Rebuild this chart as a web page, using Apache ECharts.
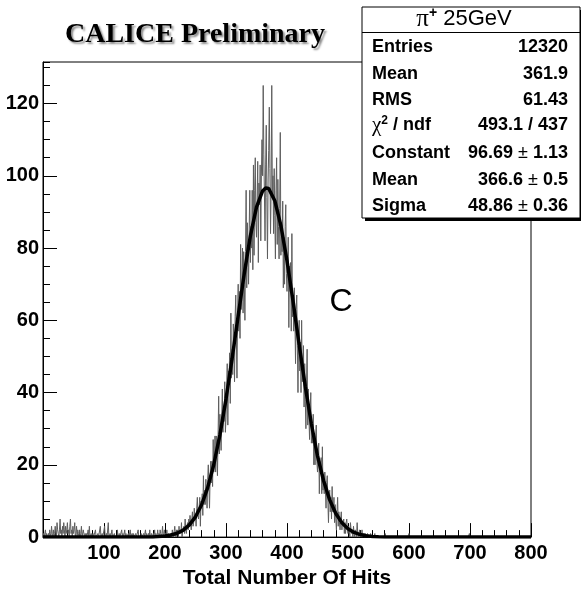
<!DOCTYPE html>
<html><head><meta charset="utf-8">
<script src="https://cdn.jsdelivr.net/npm/echarts@6/dist/echarts.min.js"></script>
<style>html,body{margin:0;padding:0;background:#fff}#c{width:581px;height:594px}</style>
</head><body><div id="c"></div>
<script>
// Histogram: 800 bins of width 1 over [0, 800)
const binStart = 0;
const binWidth = 1;
const counts = [
0,1,0,0,2,0,1,0,0,1,
0,2,1,0,3,1,0,2,0,1,
3,1,0,4,2,1,0,2,5,1,
2,0,3,1,4,2,0,3,1,2,
4,1,2,0,3,5,1,2,0,3,
1,2,4,0,1,3,0,2,1,0,
2,0,1,3,0,0,2,1,0,1,
0,1,0,0,2,0,3,0,0,1,
0,0,1,0,0,0,2,0,0,0,
1,0,0,0,3,0,0,1,0,0,
0,3,0,0,1,0,0,4,0,0,
1,0,0,2,0,0,0,1,0,0,
0,0,2,0,0,1,0,0,0,2,
0,1,0,0,2,0,1,0,0,0,
1,0,0,2,0,0,1,0,1,0,
0,0,1,0,0,0,2,0,0,0,
0,1,0,0,0,1,0,0,2,0,
1,0,0,1,0,2,0,0,1,0,
0,1,0,2,0,1,1,0,2,0,
1,0,2,1,0,1,3,0,1,2,
0,1,0,2,0,0,1,1,0,1,
1,0,2,1,0,0,3,1,0,2,
1,2,0,3,1,2,1,4,0,2,
2,3,1,5,2,1,3,4,2,5,
3,6,4,2,5,7,3,4,8,5,
6,3,8,11,6,5,8,11,3,10,
8,12,6,17,9,13,9,16,12,8,
16,20,14,8,17,21,15,21,14,27,
18,21,28,18,28,22,17,28,39,23,
34,28,24,33,41,29,35,32,43,29,
33,40,48,31,46,43,51,37,62,44,
52,45,59,52,43,61,67,55,44,62,
70,57,68,55,81,63,68,80,62,79,
70,60,79,96,69,87,77,70,85,96,
76,86,80,96,74,103,78,96,105,87,
83,93,104,76,98,92,103,82,100,110,
100,125,106,95,82,103,114,94,77,98,
107,119,102,84,96,125,94,100,84,102,
89,77,96,105,81,99,86,77,91,112,
78,86,79,93,69,83,70,86,92,73,
68,75,83,58,75,68,76,57,84,61,
67,57,69,60,48,63,67,53,40,55,
60,46,54,40,60,43,45,53,36,48,
38,30,42,52,31,41,33,27,35,40,
26,31,26,34,20,28,20,28,31,21,
18,22,26,12,21,18,22,12,25,13,
17,12,18,13,8,15,17,10,4,11,
13,7,11,5,14,7,8,11,4,9,
5,2,7,11,3,7,4,2,5,7,
2,4,3,5,1,4,1,4,5,2,
1,3,2,0,4,2,1,2,0,3,
1,0,2,1,0,4,1,0,1,2,
0,1,0,2,0,0,1,0,1,0,
0,0,1,0,0,0,0,1,0,0,
0,0,0,0,1,0,0,0,0,0,
0,0,0,0,0,0,0,0,0,0,
0,1,0,0,0,0,0,0,0,0,
0,0,0,0,0,0,0,0,0,0,
0,0,0,0,0,0,0,0,0,0,
0,0,0,0,0,0,0,0,0,0,
1,0,0,0,0,0,0,0,0,0,
0,0,0,0,0,0,0,0,0,0,
0,0,0,0,0,0,0,0,0,0,
0,0,0,0,0,0,0,0,0,0,
0,0,0,0,0,0,0,0,0,0,
0,0,0,0,0,0,0,0,0,0,
0,0,0,0,0,0,0,0,0,0,
0,0,0,0,0,0,0,0,0,0,
0,0,0,0,0,0,0,0,0,0,
0,0,0,0,0,0,0,0,0,1,
0,0,0,0,0,0,0,0,0,0,
0,0,0,0,0,0,0,0,0,0,
0,0,0,0,0,0,0,0,0,0,
0,0,0,0,0,0,0,0,0,0,
0,0,0,0,0,0,0,0,0,0,
0,0,0,0,0,0,0,0,0,0,
0,0,0,0,0,0,0,0,0,0,
0,0,0,0,0,0,0,0,0,0,
0,0,0,0,0,0,0,0,0,0,
0,0,0,0,0,0,0,0,0,0
];

// Gaussian fit curve, sampled
const fitX = [0,10,20,30,40,50,60,70,80,90,100,110,120,130,140,150,160,170,180,190,
  200,210,220,230,240,250,260,270,280,290,300,310,320,330,340,350,360,365,370,380,390,
  400,410,420,430,440,450,460,470,480,490,500,510,520,530,540,550,560,570,580,590,
  600,610,620,630,640,650,660,670,680,690,700,710,720,730,740,750,760,770,780,790,800];
const fitY = [0,0,0,0,0,0,0,0,0,0,0,0,0,0,0,0,0,0,0,0.14,
  0.29,0.57,1.07,1.94,3.37,5.61,8.95,13.7,20.1,28.3,38.2,49.4,61.3,73.0,83.4,91.3,95.8,96.64,96.5,93.1,86.2,
  76.5,65.2,53.2,41.7,31.3,22.5,15.6,10.3,6.55,3.98,2.33,1.30,0.70,0.36,0.18,0.08,0,0,0,0,
  0,0,0,0,0,0,0,0,0,0,0,0,0,0,0,0,0,0,0,0,0];

const xMin = 0, xMax = 800, xStep = 100;
const yMin = 0, yMax = 131.5, yStep = 20, yMinorStep = 5;

const titleText = 'CALICE Preliminary';
const statHeader = ['π', '+', ' 25GeV'];
const statLabels = ['Entries', 'Mean', 'RMS', 'CHI', 'Constant', 'Mean', 'Sigma'];
const statValues = ['12320', '361.9', '61.43', '493.1 / 437', ['96.69', '1.13'], ['366.6', '0.5'], ['48.86', '0.36']];
const xTitle = 'Total Number Of Hits';
const panelLetter = 'C';

const SANS = '"Liberation Sans", Arial, Helvetica, sans-serif';
const SERIF = '"Liberation Serif", "Times New Roman", serif';

const histData = counts.map((c, i) => [binStart + i * binWidth, c]);
histData.push([binStart + counts.length * binWidth, counts[counts.length - 1]]);
const fitData = fitX.map((x, i) => [x, fitY[i]]);

const chart = echarts.init(document.getElementById('c'), null, {renderer: 'canvas'});

const rowY = [47, 74.5, 100.5, 125.5, 153.5, 180.5, 206.5];
const boxL = 362, boxR = 580, boxT = 7, boxB = 218;

const statGraphics = [];
statGraphics.push({type: 'rect', z: 100, shape: {x: boxL + 3, y: boxT + 3, width: boxR - boxL, height: boxB - boxT}, style: {fill: '#000'}});
statGraphics.push({type: 'rect', z: 101, shape: {x: boxL, y: boxT, width: boxR - boxL, height: boxB - boxT}, style: {fill: '#fff', stroke: '#000', lineWidth: 1}});
statGraphics.push({type: 'line', z: 102, shape: {x1: boxL, y1: 32.5, x2: boxR, y2: 32.5}, style: {stroke: '#000', lineWidth: 1}});
statGraphics.push({type: 'text', z: 103, x: 464, y: 19, style: {
  text: '{pi|' + statHeader[0] + '}{sup|' + statHeader[1] + '}{t|' + statHeader[2] + '}',
  align: 'center', verticalAlign: 'middle',
  rich: {
    pi: {fontFamily: SERIF, fontSize: 25, fill: '#000'},
    sup: {fontFamily: SANS, fontSize: 14, fontWeight: 'bold', fill: '#000', padding: [0, 0, 11, 0]},
    t: {fontFamily: SANS, fontSize: 22, fill: '#000', textStrokeWidth: 0.4, textStroke: '#000'}
  }
}});
statLabels.forEach((lab, i) => {
  let txt;
  if (lab === 'CHI') {
    txt = '{chi|χ}{sup|2}{b| / ndf}';
  } else {
    txt = '{b|' + lab + '}';
  }
  statGraphics.push({type: 'text', z: 103, x: 372, y: rowY[i], style: {
    text: txt, align: 'left', verticalAlign: 'middle',
    rich: {
      b: {fontFamily: SANS, fontSize: 18, fontWeight: 'bold', fill: '#000'},
      chi: {fontFamily: SERIF, fontSize: 21, fill: '#000'},
      sup: {fontFamily: SANS, fontSize: 12, fontWeight: 'bold', fill: '#000', padding: [0, 0, 9, 0]}
    }
  }});
  const v = statValues[i];
  let vt;
  if (Array.isArray(v)) {
    vt = '{b|' + v[0] + ' }{pm|±}{b| ' + v[1] + '}';
  } else {
    vt = '{b|' + v + '}';
  }
  statGraphics.push({type: 'text', z: 103, x: 568, y: rowY[i], style: {
    text: vt, align: 'right', verticalAlign: 'middle',
    rich: {
      b: {fontFamily: SANS, fontSize: 18, fontWeight: 'bold', fill: '#000'},
      pm: {fontFamily: SANS, fontSize: 18, fill: '#000'}
    }
  }});
});

const option = {
  animation: false,
  backgroundColor: '#fff',
  grid: {left: 43, right: 50, top: 62, bottom: 52, show: true, borderColor: '#000', borderWidth: 1, containLabel: false},
  xAxis: {
    type: 'value', min: xMin, max: xMax, interval: xStep,
    axisLine: {show: true, onZero: false, lineStyle: {color: '#000', width: 1}},
    axisTick: {show: true, inside: true, length: 14, lineStyle: {color: '#000', width: 1}},
    minorTick: {show: true, splitNumber: 5, length: 7, lineStyle: {color: '#000', width: 1}},
    splitLine: {show: false},
    axisLabel: {showMinLabel: false, color: '#000', fontWeight: 'bold', fontSize: 20, fontFamily: SANS, margin: 6},
    name: xTitle, nameLocation: 'middle', nameGap: 27,
    nameTextStyle: {color: '#000', fontWeight: 'bold', fontSize: 21, fontFamily: SANS}
  },
  yAxis: [{
    type: 'value', min: yMin, max: yMax, interval: yStep, position: 'left',
    axisLine: {show: true, onZero: false, lineStyle: {color: '#000', width: 1}},
    axisTick: {show: true, inside: true, length: 14, lineStyle: {color: '#000', width: 1}},
    splitLine: {show: false},
    axisLabel: {showMaxLabel: false, color: '#000', fontWeight: 'bold', fontSize: 20, fontFamily: SANS, margin: 4}
  }, {
    type: 'value', min: yMin, max: yMax, interval: yMinorStep, position: 'left',
    axisLine: {show: false},
    axisTick: {show: true, inside: true, length: 7, lineStyle: {color: '#000', width: 1}},
    splitLine: {show: false},
    axisLabel: {show: false}
  }],
  series: [{
    type: 'line', data: histData, step: 'end', showSymbol: false, yAxisIndex: 0,
    lineStyle: {color: '#5e5e5e', width: 1}, z: 2, silent: true
  }, {
    type: 'line', data: fitData, showSymbol: false, yAxisIndex: 0,
    lineStyle: {color: '#000', width: 3.5}, z: 3, silent: true
  }],
  graphic: [
    {type: 'text', z: 50, x: 195, y: 35, style: {text: titleText, align: 'center', verticalAlign: 'middle',
      fontFamily: SERIF, fontWeight: 'bold', fontSize: 28, fill: '#000',
      textShadowColor: 'rgba(0,0,0,0.45)', textShadowOffsetX: 2, textShadowOffsetY: 2, textShadowBlur: 2}},
    {type: 'text', z: 50, x: 341, y: 302, style: {text: panelLetter, align: 'center', verticalAlign: 'middle',
      fontFamily: SANS, fontSize: 32, fill: '#000'}}
  ].concat(statGraphics)
};
chart.setOption(option);
</script>
</body></html>
